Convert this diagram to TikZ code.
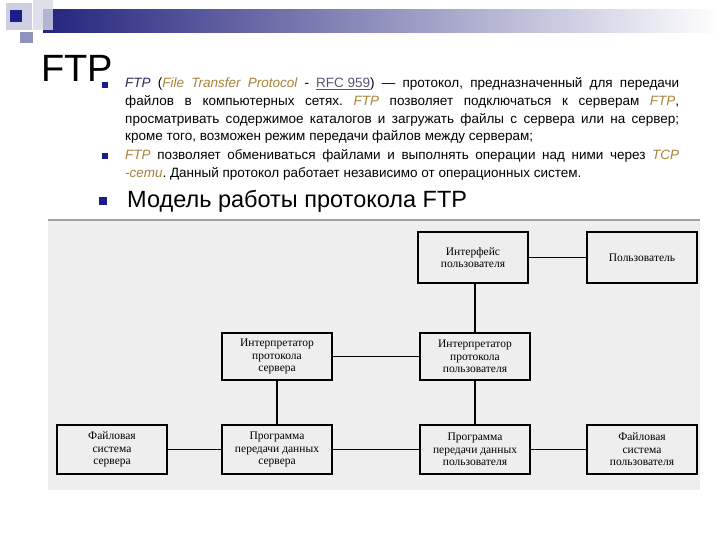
\documentclass[tikz,border=0pt]{standalone}
\usepackage{fontspec}
\setmainfont{Liberation Sans}
\newfontfamily\boxfont{Liberation Serif}
\definecolor{navy}{HTML}{24247E}
\definecolor{bulletc}{HTML}{1C1C8C}
\definecolor{ftpdark}{HTML}{2A2A55}
\definecolor{goldc}{HTML}{A8823A}
\definecolor{rfcc}{HTML}{55557A}
\definecolor{diagbg}{HTML}{EEEEEE}
\definecolor{rulec}{HTML}{A0A0A0}
\frenchspacing
\begin{document}
\begin{tikzpicture}[x=1bp,y=-1bp,
  bodytext/.style={anchor=base west, inner sep=0pt, text width=554bp, align=justify,
     font=\fontsize{13.5bp}{17.6bp}\selectfont},
  bul/.style={fill=bulletc},
  dbox/.style={draw=black, line width=1.4bp, fill=diagbg, minimum width=110bp,
     inner sep=1bp, align=center, font=\boxfont\fontsize{11.5bp}{12.6bp}\selectfont},
  thin/.style={line width=1.3bp},
  thick/.style={line width=2.4bp}]
\useasboundingbox (0,0) rectangle (720,540);
% top decoration
\fill[white] (0,0) rectangle (720,540);
\shade[left color=navy, right color=white] (43,10) rectangle (720,33);
\fill[fill=navy!22] (6,3) rectangle (32,30);
\fill[fill=navy!18, opacity=0.8] (33,0) rectangle (53,30);
\fill[fill=bulletc] (10,10) rectangle (22,22);
\fill[fill=navy!50] (20,32) rectangle (33,43);
% title
\node[anchor=base west, inner sep=0pt, font=\fontsize{38bp}{40bp}\selectfont] (title) at (41,82) {FTP};
% bullets
\fill[bul] (102,82) rectangle (108,88);
\fill[bul] (102,153) rectangle (108,159);
\fill[bul] (99,197) rectangle (107,205);
% paragraphs
\node[bodytext] (p1) at (125,88) {\noindent{\color{ftpdark}\itshape FTP} ({\color{goldc}\itshape File Transfer Protocol} - {\color{rfcc}\underline{RFC 959}}) — протокол, предназначенный для передачи\linebreak
файлов в компьютерных сетях. {\color{goldc}\itshape FTP} позволяет подключаться к серверам {\color{goldc}\itshape FTP},\linebreak
просматривать содержимое каталогов и загружать файлы с сервера или на сервер;\linebreak
кроме того, возможен режим передачи файлов между серверам;};
\node[bodytext] (p2) at (125,160) {\noindent{\color{goldc}\itshape FTP} позволяет обмениваться файлами и выполнять операции над ними через {\color{goldc}\itshape TCP}\linebreak
{\color{goldc}\itshape -сети}. Данный протокол работает независимо от операционных систем.};
\node[anchor=base west, inner sep=0pt, font=\fontsize{23.5bp}{25bp}\selectfont] (head) at (127,208) {Модель работы протокола FTP};
% diagram
\fill[diagbg] (48,220) rectangle (700,490);
\draw[rulec, line width=1.5bp] (48,220) -- (700,220);
\node[dbox, minimum height=51bp] (iface) at (473,257.5) {Интерфейс\\пользователя};
\node[dbox, minimum height=51bp] (user) at (642,257.5) {Пользователь};
\node[dbox, minimum height=47bp] (isrv) at (277,356.5) {Интерпретатор\\протокола\\сервера};
\node[dbox, minimum height=47bp] (iusr) at (475,356.5) {Интерпретатор\\протокола\\пользователя};
\node[dbox, minimum height=49bp] (fss) at (112,449.5) {Файловая\\система\\сервера};
\node[dbox, minimum height=49bp] (pds) at (277,449.5) {Программа\\передачи данных\\сервера};
\node[dbox, minimum height=49bp] (pdu) at (475,449.5) {Программа\\передачи данных\\пользователя};
\node[dbox, minimum height=49bp] (fsu) at (642,449.5) {Файловая\\система\\пользователя};
\draw[thin] (iface) -- (user);
\draw[thick] (iface.south -| iusr) -- (iusr);
\draw[thin] (isrv) -- (iusr);
\draw[thin] (isrv) -- (pds);
\draw[thick] (iusr) -- (pdu);
\draw[thin] (fss) -- (pds);
\draw[thin] (pds) -- (pdu);
\draw[thin] (pdu) -- (fsu);
\end{tikzpicture}
\end{document}
